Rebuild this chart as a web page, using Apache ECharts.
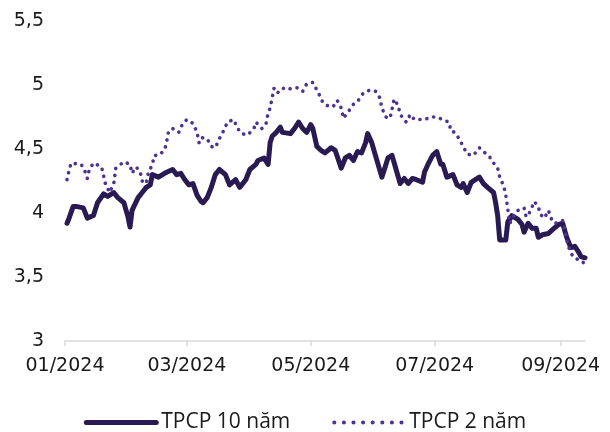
<!DOCTYPE html>
<html>
<head>
<meta charset="utf-8">
<script src="https://cdn.jsdelivr.net/npm/echarts@6/dist/echarts.min.js"></script>
<style>
  html, body { margin: 0; padding: 0; background: #ffffff; }
  #chart { width: 610px; height: 432px; }
</style>
</head>
<body>
<div id="chart"></div>
<script>
// Vietnamese government bond yields (%), 2024
const seriesNames = ['TPCP 10 năm', 'TPCP 2 năm'];

const dates10 = [
  '2024-01-02','2024-01-03','2024-01-05','2024-01-07','2024-01-10','2024-01-12','2024-01-15','2024-01-17',
  '2024-01-20','2024-01-22','2024-01-25','2024-01-27','2024-01-30','2024-02-01','2024-02-02','2024-02-03',
  '2024-02-06','2024-02-08','2024-02-10','2024-02-12','2024-02-13','2024-02-16','2024-02-19','2024-02-23',
  '2024-02-25','2024-02-27','2024-02-29','2024-03-02','2024-03-04','2024-03-06','2024-03-08','2024-03-09',
  '2024-03-11','2024-03-13','2024-03-15','2024-03-17','2024-03-20','2024-03-22','2024-03-25','2024-03-27',
  '2024-03-30','2024-04-01','2024-04-04','2024-04-05','2024-04-08','2024-04-10','2024-04-11','2024-04-12',
  '2024-04-14','2024-04-16','2024-04-17','2024-04-21','2024-04-23','2024-04-25','2024-04-27','2024-04-29',
  '2024-05-01','2024-05-02','2024-05-04','2024-05-06','2024-05-08','2024-05-11','2024-05-13','2024-05-16',
  '2024-05-18','2024-05-20','2024-05-22','2024-05-24','2024-05-26','2024-05-28','2024-05-29','2024-05-31',
  '2024-06-02','2024-06-05','2024-06-08','2024-06-10','2024-06-12','2024-06-14','2024-06-16','2024-06-18',
  '2024-06-20','2024-06-22','2024-06-25','2024-06-26','2024-06-28','2024-06-30','2024-07-02','2024-07-04',
  '2024-07-05','2024-07-07','2024-07-10','2024-07-12','2024-07-14','2024-07-15','2024-07-17','2024-07-19',
  '2024-07-21','2024-07-23','2024-07-25','2024-07-27','2024-07-30','2024-07-31','2024-08-01','2024-08-02',
  '2024-08-05','2024-08-06','2024-08-08','2024-08-11','2024-08-13','2024-08-14','2024-08-16','2024-08-18',
  '2024-08-20','2024-08-21','2024-08-23','2024-08-26','2024-08-28','2024-08-31','2024-09-02','2024-09-04',
  '2024-09-06','2024-09-08','2024-09-10','2024-09-11','2024-09-13'
];
const yield10 = [
  3.92,3.96,4.05,4.05,4.04,3.96,3.98,4.08,
  4.15,4.13,4.16,4.12,4.08,3.97,3.89,4.02,
  4.12,4.16,4.20,4.22,4.30,4.28,4.31,4.34,
  4.30,4.31,4.26,4.22,4.23,4.14,4.09,4.08,
  4.12,4.20,4.30,4.34,4.30,4.22,4.26,4.20,
  4.26,4.34,4.38,4.41,4.43,4.38,4.55,4.60,
  4.63,4.67,4.63,4.62,4.66,4.71,4.66,4.63,
  4.69,4.66,4.52,4.49,4.47,4.51,4.49,4.35,
  4.43,4.45,4.41,4.48,4.47,4.55,4.62,4.55,
  4.44,4.28,4.43,4.45,4.34,4.23,4.27,4.23,
  4.27,4.26,4.24,4.32,4.39,4.45,4.48,4.38,
  4.38,4.28,4.30,4.22,4.20,4.23,4.16,4.24,
  4.26,4.28,4.23,4.20,4.16,4.08,3.98,3.79,
  3.79,3.93,3.98,3.95,3.91,3.85,3.92,3.88,
  3.88,3.81,3.83,3.84,3.87,3.91,3.92,3.81,
  3.73,3.74,3.69,3.66,3.65
];

const dates2 = [
  '2024-01-02','2024-01-03','2024-01-04','2024-01-09','2024-01-11','2024-01-12','2024-01-13','2024-01-15',
  '2024-01-19','2024-01-20','2024-01-21','2024-01-23','2024-01-25','2024-01-26','2024-01-30','2024-02-02',
  '2024-02-03','2024-02-05','2024-02-07','2024-02-08','2024-02-10','2024-02-11','2024-02-13','2024-02-14',
  '2024-02-16','2024-02-19','2024-02-20','2024-02-21','2024-02-23','2024-02-26','2024-02-28','2024-03-01',
  '2024-03-04','2024-03-06','2024-03-07','2024-03-08','2024-03-11','2024-03-13','2024-03-15','2024-03-17',
  '2024-03-19','2024-03-21','2024-03-24','2024-03-26','2024-03-28','2024-03-31','2024-04-03','2024-04-04',
  '2024-04-07','2024-04-09','2024-04-10','2024-04-11','2024-04-12','2024-04-13','2024-04-15','2024-04-18',
  '2024-04-21','2024-04-24','2024-04-27','2024-04-29','2024-05-02','2024-05-03','2024-05-05','2024-05-07',
  '2024-05-09','2024-05-12','2024-05-14','2024-05-16','2024-05-17','2024-05-19','2024-05-22','2024-05-24',
  '2024-05-27','2024-05-30','2024-06-02','2024-06-04','2024-06-05','2024-06-07','2024-06-09','2024-06-10',
  '2024-06-11','2024-06-13','2024-06-14','2024-06-17','2024-06-19','2024-06-21','2024-06-26','2024-06-29',
  '2024-07-02','2024-07-05','2024-07-08','2024-07-09','2024-07-11','2024-07-13','2024-07-15','2024-07-17',
  '2024-07-20','2024-07-23','2024-07-25','2024-07-28','2024-07-30','2024-08-01','2024-08-02','2024-08-04',
  '2024-08-05','2024-08-06','2024-08-07','2024-08-09','2024-08-11','2024-08-14','2024-08-15','2024-08-16',
  '2024-08-18','2024-08-19','2024-08-21','2024-08-22','2024-08-24','2024-08-26','2024-08-28','2024-08-30',
  '2024-09-02','2024-09-03','2024-09-04','2024-09-05','2024-09-07','2024-09-09','2024-09-11','2024-09-13'
];
const yield2 = [
  4.26,4.33,4.39,4.38,4.32,4.27,4.34,4.39,
  4.36,4.29,4.22,4.16,4.23,4.35,4.40,4.38,
  4.31,4.36,4.32,4.25,4.23,4.31,4.38,4.45,
  4.45,4.49,4.55,4.64,4.66,4.63,4.70,4.73,
  4.70,4.63,4.55,4.59,4.58,4.52,4.51,4.58,
  4.64,4.71,4.73,4.66,4.62,4.61,4.66,4.71,
  4.66,4.70,4.78,4.82,4.90,4.98,4.94,4.98,
  4.97,4.98,4.95,5.01,5.02,4.99,4.93,4.86,
  4.84,4.83,4.88,4.82,4.74,4.78,4.85,4.87,
  4.94,4.96,4.95,4.90,4.82,4.75,4.74,4.81,
  4.89,4.84,4.77,4.71,4.77,4.73,4.73,4.75,
  4.75,4.73,4.71,4.64,4.63,4.58,4.52,4.46,
  4.45,4.51,4.48,4.44,4.39,4.35,4.28,4.21,
  4.14,4.03,3.92,3.98,4.02,4.04,3.97,3.98,
  4.05,4.09,4.05,3.99,3.96,4.02,3.93,3.92,
  3.94,3.87,3.79,3.73,3.66,3.64,3.63,3.60
];

// x-axis ticks and labels sit on the first day of every other month
const tickMonths = ['2024-01-01', '2024-03-01', '2024-05-01', '2024-07-01', '2024-09-01'];
const axisStart = '2024-01-01';
const axisEnd = '2024-09-13';

// dates become millisecond timestamps on a numeric x axis
const toTime = s => {
  const [y, m, d] = s.split('-').map(Number);
  return Date.UTC(y, m - 1, d);
};
const tickValues = tickMonths.map(toTime);

const colorTen = '#2a1a52';
const colorTwo = '#4d3290';
const textColor = '#1a1a1a';

const chart = echarts.init(document.getElementById('chart'), null, { renderer: 'canvas' });

chart.setOption({
  animation: false,
  backgroundColor: '#ffffff',
  grid: { left: 65, right: 25, top: 21, bottom: 91, containLabel: false },
  legend: {
    left: 'center',
    top: 407,
    itemWidth: 70,
    itemHeight: 14,
    itemGap: 42,
    itemStyle: { opacity: 0 },
    textStyle: { fontFamily: 'Open Sans', fontSize: 21, color: textColor },
    data: [
      { name: seriesNames[0], lineStyle: { width: 5, cap: 'round' } },
      { name: seriesNames[1], lineStyle: { type: [0.1, 9.5], cap: 'round', width: 4 } }
    ]
  },
  xAxis: {
    type: 'value',
    min: toTime(axisStart),
    max: toTime(axisEnd),
    axisLine: { show: true, lineStyle: { color: '#d9d9d9', width: 1.5 } },
    axisTick: {
      show: true,
      length: 5,
      customValues: tickValues,
      lineStyle: { color: '#d9d9d9', width: 1.5 }
    },
    axisLabel: {
      customValues: tickValues,
      margin: 16,
      fontFamily: 'DejaVu Sans',
      fontSize: 19,
      color: textColor,
      hideOverlap: false,
      showMinLabel: true,
      showMaxLabel: true,
      formatter: v => {
        const d = new Date(v);
        return String(d.getUTCMonth() + 1).padStart(2, '0') + '/' + d.getUTCFullYear();
      }
    },
    splitLine: { show: false }
  },
  yAxis: {
    type: 'value',
    min: 3,
    max: 5.5,
    interval: 0.5,
    axisLine: { show: false },
    axisTick: { show: false },
    splitLine: { show: false },
    axisLabel: {
      margin: 21,
      fontFamily: 'DejaVu Sans',
      fontSize: 19,
      color: textColor,
      formatter: v => String(v).replace('.', ',')
    }
  },
  series: [
    {
      name: seriesNames[0],
      type: 'line',
      symbol: 'none',
      data: dates10.map((d, i) => [toTime(d), yield10[i]]),
      lineStyle: { color: colorTen, width: 5, cap: 'round', join: 'round' },
      itemStyle: { color: colorTen }
    },
    {
      name: seriesNames[1],
      type: 'line',
      symbol: 'none',
      data: dates2.map((d, i) => [toTime(d), yield2[i]]),
      lineStyle: { color: colorTwo, width: 3.6, type: [0.1, 7], cap: 'round', join: 'round' },
      itemStyle: { color: colorTwo }
    }
  ]
});
</script>
</body>
</html>
